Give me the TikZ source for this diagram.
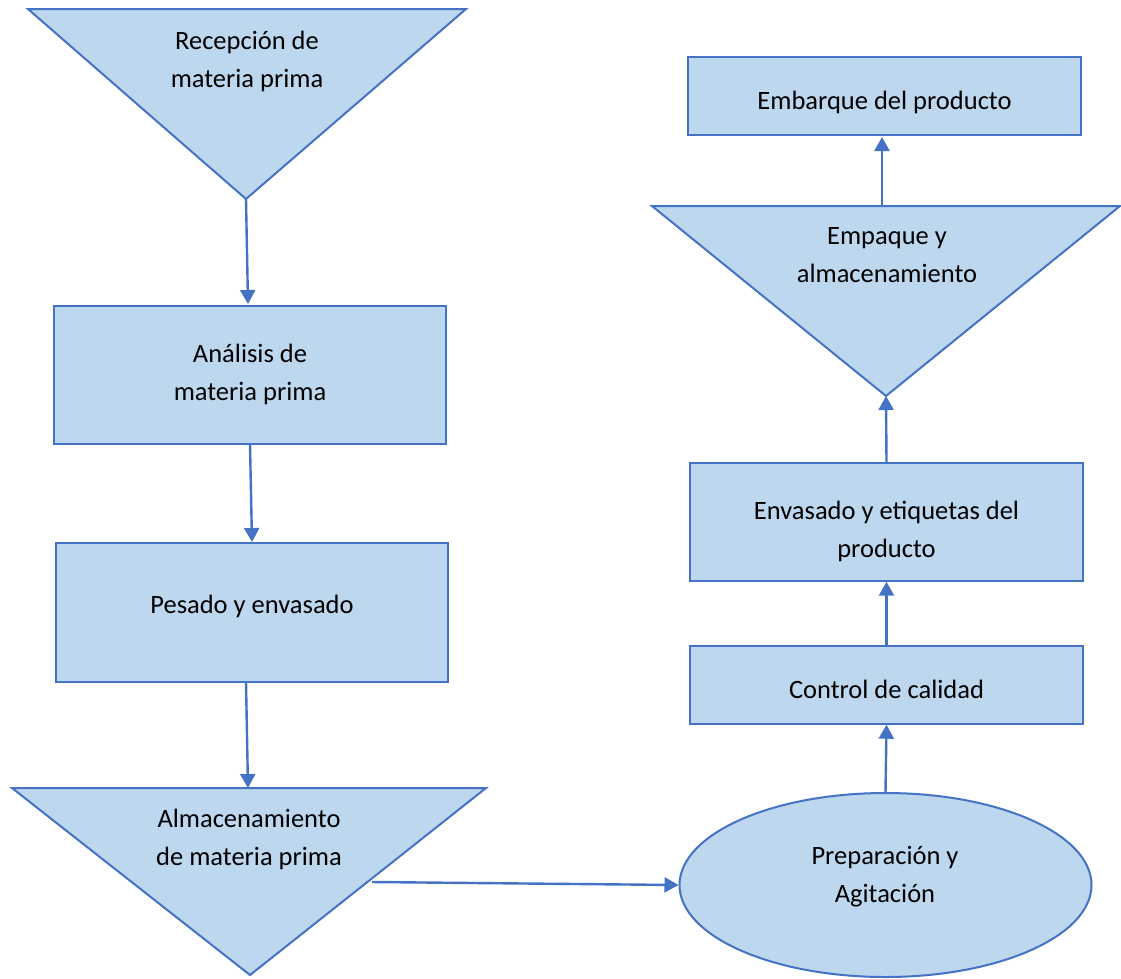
\documentclass[tikz,border=0pt]{standalone}
\usepackage{fontspec}
\setmainfont{Carlito}
\usetikzlibrary{arrows.meta,shapes.geometric}
\definecolor{boxfill}{HTML}{BDD7EE}
\definecolor{boxline}{HTML}{4472C4}
\tikzset{
  proc/.style={draw=boxline, fill=boxfill, line width=1.4pt, inner sep=0pt},
  tri/.style={draw=boxline, fill=boxfill, line width=2pt, line join=miter},
  lbl/.style={inner sep=0pt, align=center, font=\fontsize{26.5}{37.5}\selectfont},
  flow/.style={draw=boxline, line width=2.4pt, -{Triangle[length=14pt,width=15pt]}},
}
\begin{document}
\begin{tikzpicture}[x=1pt,y=-1pt]
\useasboundingbox (0,0) rectangle (1121,978);
% Triangle 1
\draw[tri] (28,9) -- (466,9) -- (246,199) -- cycle;
\coordinate (t1apex) at (246,199);
\node[lbl] (t1) at (247,61.5) {Recepción de\\materia prima};
% Rect 1
\node[proc, minimum width=392pt, minimum height=138pt] (r1) at (250,375) {};
\node[lbl] (r1t) at (250,374.5) {Análisis de\\materia prima};
% Rect 2
\node[proc, minimum width=392pt, minimum height=139pt] (r2) at (252,612.5) {};
\node[lbl, anchor=base] (r2t) at (252,613) {Pesado y envasado};
% Triangle 2
\draw[tri] (12,788) -- (486,788) -- (250,975) -- cycle;
\coordinate (t2top) at (248,788);
\coordinate (t2right) at (372,882);
\node[lbl] (t2) at (249,839.5) {Almacenamiento\\de materia prima};
% Ellipse
\node[ellipse, draw=boxline, fill=boxfill, line width=2pt, minimum width=412pt, minimum height=184pt, inner sep=0pt] (el) at (885.5,885) {};
\node[lbl] (elt) at (885,876.5) {Preparación y\\Agitación};
% Control
\node[proc, minimum width=393pt, minimum height=78pt] (r3) at (886.5,685) {};
\node[lbl, anchor=base] (r3t) at (886.5,698) {Control de calidad};
% Envasado
\node[proc, minimum width=393pt, minimum height=118pt] (r4) at (886.5,522) {};
\node[lbl] (r4t) at (886.5,531.5) {Envasado y etiquetas del\\producto};
% Triangle 3
\draw[tri] (652,206) -- (1120,206) -- (886,396) -- cycle;
\coordinate (t3apex) at (886,396);
\coordinate (t3top) at (882,206);
\node[lbl] (t3) at (887,255) {Empaque y\\almacenamiento};
% Embarque
\node[proc, minimum width=393pt, minimum height=78pt] (r5) at (884.5,96) {};
\node[lbl, anchor=base] (r5t) at (884.5,109) {Embarque del producto};
% Connectors
\draw[flow] (t1apex) -- (248,304);
\draw[flow] (250,444) -- (252,542);
\draw[flow] (246,682) -- (t2top);
\draw[flow] (t2right) -- (el.west);
\draw[flow] (el.north) -- (r3.south);
\draw[flow] (r3.north) -- (r4.south);
\draw[flow] (r4.north) -- (t3apex);
\draw[flow] (t3top) -- (882,137);
\end{tikzpicture}
\end{document}
